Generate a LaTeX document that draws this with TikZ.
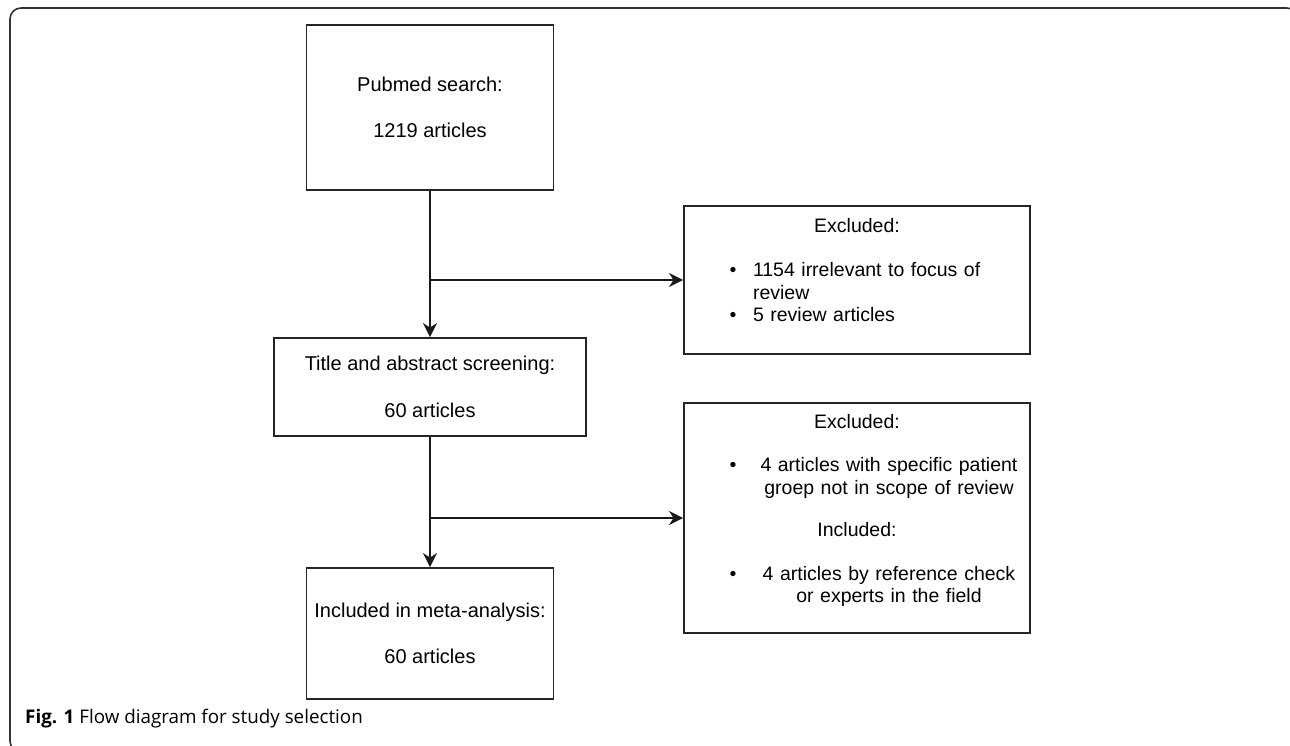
\documentclass[tikz,border=0pt]{standalone}
\usepackage{fontspec}
\setmainfont{Liberation Sans}
\newfontfamily\capfont{Open Sans}
\usetikzlibrary{arrows.meta}

\tikzset{
  box/.style={draw=black!85,line width=1.9pt,inner sep=0pt,align=center},
  arr/.style={draw=black!90,line width=1.9pt,-{Stealth[length=14pt,width=14pt,inset=4.5pt]}},
  txt/.style={inner sep=0pt,anchor=north,text width=346pt,align=center,
    font=\fontsize{19.5}{22.5}\selectfont}
}
% bullet at a fixed place, lines of the side boxes
\newcommand{\blt}{\makebox[0pt][l]{\hspace*{45.5pt}\textbullet}}
\newcommand{\ctrline}[1]{\makebox[346pt][l]{\hspace*{64pt}\makebox[282pt]{#1}}}
\newcommand{\lftline}[1]{\makebox[346pt][l]{\hspace*{69pt}#1}}

\begin{document}
\begin{tikzpicture}[x=1pt,y=-1pt,every node/.style={font=\fontsize{20}{22.5}\selectfont}]
  \useasboundingbox (0,0) rectangle (1290,745);
  \clip (0,0) rectangle (1290,745);
  % frame round the figure
  \draw[line width=1.6pt,draw=black!80,rounded corners=11pt] (10,8) rectangle (1298,752);
  % main column
  \node[box,minimum width=247pt,minimum height=165pt] (search) at (430,107.5)
    {Pubmed search:\\[23pt]1219 articles};
  \node[box,minimum width=312pt,minimum height=98pt] (screen) at (430,387)
    {Title and abstract screening:\\[24pt]60 articles};
  \node[box,minimum width=247pt,minimum height=131pt] (meta) at (430,633.5)
    {Included in meta-analysis:\\[23.5pt]60 articles};
  % side boxes
  \node[box,minimum width=346pt,minimum height=148pt] (excl1) at (857,280) {};
  \node[txt] (excl1txt) at ([yshift=-12.8pt]excl1.north)
    {Excluded:\\[22pt]
     \blt\lftline{1154 irrelevant to focus of}\\
     \lftline{review}\\
     \blt\lftline{5 review articles}};
  \node[box,minimum width=346pt,minimum height=230pt] (excl2) at (857,518) {};
  \node[txt] (excl2txt) at ([yshift=-11.8pt]excl2.north)
    {Excluded:\\[21pt]
     \blt\ctrline{4 articles with specific patient}\\
     \ctrline{groep not in scope of review}\\[20pt]
     Included:\\[21pt]
     \blt\ctrline{4 articles by reference check}\\
     \ctrline{or experts in the field}};
  % connectors
  \coordinate (j1) at (screen.north |- excl1.west);
  \coordinate (j2) at (screen.south |- excl2.west);
  \draw[arr] (search.south) -- (screen.north);
  \draw[arr] (j1) -- (excl1.west);
  \draw[arr] (screen.south) -- (meta.north);
  \draw[arr] (j2) -- (excl2.west);
  % caption
  \node[anchor=base west,inner sep=0pt,font=\capfont\fontsize{18.8}{22}\selectfont] (cap) at (25,723)
    {\textbf{Fig. 1} Flow diagram for study selection};
\end{tikzpicture}
\end{document}
